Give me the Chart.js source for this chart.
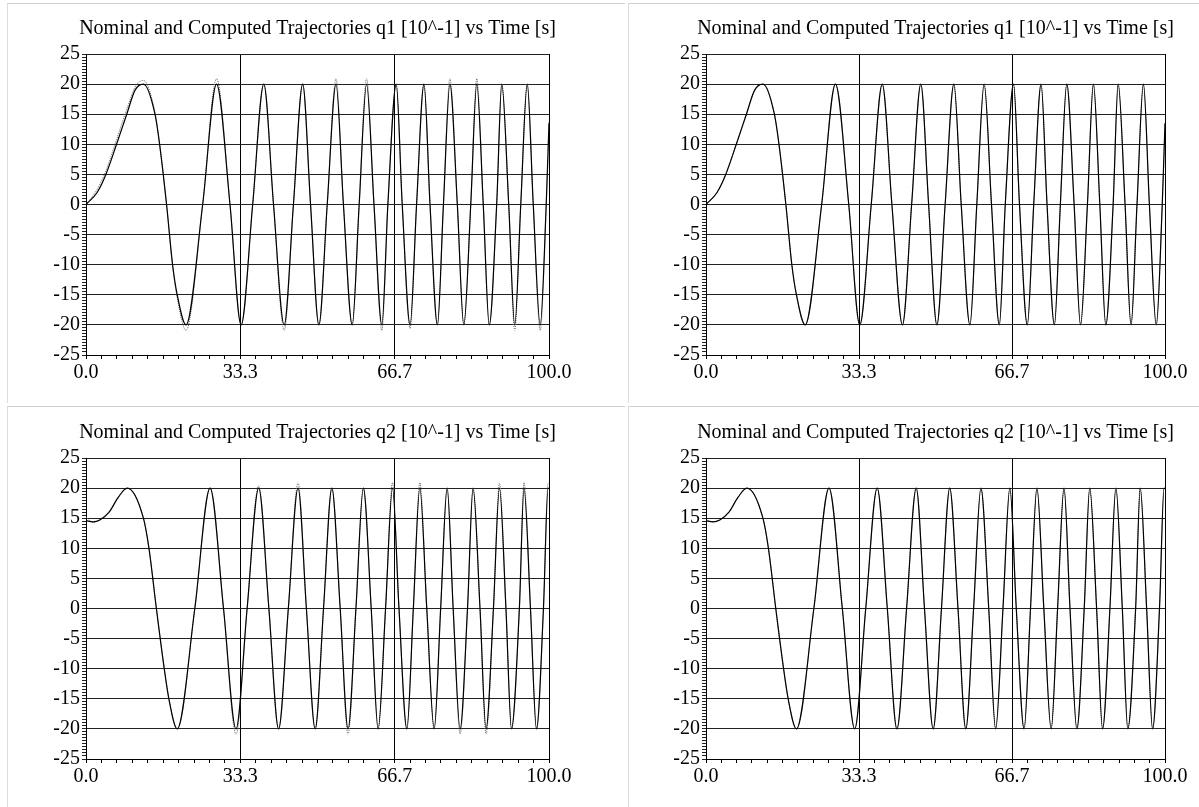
<!DOCTYPE html>
<html>
<head>
<meta charset="utf-8">
<title>Nominal and Computed Trajectories</title>
<script src="https://cdn.jsdelivr.net/npm/chart.js@4.4.1/dist/chart.umd.min.js"></script>
<style>
    html, body { margin: 0; padding: 0; background: #fff; }
    body { width: 1199px; height: 807px; overflow: hidden; position: relative; }
    .panel { position: absolute; border-top: 1px solid #cfcfcf; border-left: 1px solid #dcdcdc; box-sizing: border-box; }
    canvas { position: absolute; }
</style>
</head>
<body>
<div class="panel" style="left:7px;top:3px;width:618px;height:400px;"></div>
<div class="panel" style="left:628px;top:3px;width:580px;height:400px;"></div>
<div class="panel" style="left:7px;top:406px;width:618px;height:410px;"></div>
<div class="panel" style="left:628px;top:406px;width:580px;height:410px;"></div>
<canvas id="q1Left" width="618" height="400" style="left:7px;top:3px;"></canvas>
<canvas id="q1Right" width="600" height="400" style="left:628px;top:3px;"></canvas>
<canvas id="q2Left" width="618" height="400" style="left:7px;top:407px;"></canvas>
<canvas id="q2Right" width="600" height="400" style="left:628px;top:407px;"></canvas>
<script>
// Time samples [s] (start, peaks, zero crossings, troughs)
const q1Time = [0, 2.4, 4.3, 6.6, 8.8, 10.6, 12.4, 14.9, 15.9, 17.4, 18.7, 19.7, 21.6,
    25.2, 28.2, 31.1, 33.5, 36.0, 38.4, 40.5, 42.8, 44.8, 46.8, 48.5, 50.3, 52.1, 54.0,
    55.6, 57.5, 59.0, 60.6, 62.2, 63.9, 65.2, 67.0, 68.3, 70.0, 71.4, 73.0, 74.3, 75.9,
    77.2, 78.6, 80.2, 81.6, 83.1, 84.4, 85.8, 87.1, 88.7, 89.8, 91.3, 92.6, 93.9, 95.3,
    96.6, 98.1, 99.4, 100];
const q1Nominal = [0, 2, 5, 10, 15, 19, 20, 15, 10, 0, -10, -15, -20,
    0, 20, 0, -20, 0, 20, 0, -20, 0, 20, 0, -20, 0, 20,
    0, -20, 0, 20, 0, -20, 0, 20, 0, -20, 0, 20, 0, -20,
    0, 20, 0, -20, 0, 20, 0, -20, 0, 20, 0, -20, 0, 20,
    0, -20, 0, 13.5];
const q1Computed = [0, 2.5, 5.6, 10.8, 15.8, 19.5, 20.6, 15.3, 10, 0, -10.2, -15.5, -20.9,
    0, 20.9, 0, -20, 0, 20, 0, -20.9, 0, 20, 0, -20, 0, 20.9,
    0, -20, 0, 20.9, 0, -20.9, 0, 20, 0, -20.6, 0, 20, 0, -20,
    0, 20.9, 0, -20, 0, 20.9, 0, -20, 0, 20, 0, -20.9, 0, 20,
    0, -20.9, 0, 13.8];

// Time samples [s]
const q2Time = [0, 1.5, 3.0, 5.0, 7.0, 8.9, 12.4, 13.6, 15.2, 16.9, 17.9, 19.7,
    23.5, 26.8, 29.7, 32.4, 34.8, 37.3, 39.5, 41.6, 43.7, 45.8, 47.6, 49.5, 51.3, 53.1,
    54.9, 56.6, 58.3, 59.9, 61.6, 63.1, 64.7, 66.2, 67.6, 69.3, 70.7, 72.1, 73.6, 75.2,
    76.6, 78.0, 79.3, 80.8, 82.4, 83.6, 85.1, 86.4, 88.0, 89.3, 90.7, 91.9, 93.6, 94.6,
    96.0, 97.3, 98.8, 99.8, 100];
const q2Nominal = [14.6, 14.4, 14.7, 16, 18.5, 20, 15, 10, 0, -10, -15, -20,
    0, 20, 0, -20, 0, 20, 0, -20, 0, 20, 0, -20, 0, 20,
    0, -20, 0, 20, 0, -20, 0, 20, 0, -20, 0, 20, 0, -20,
    0, 20, 0, -20, 0, 20, 0, -20, 0, 20, 0, -20, 0, 20,
    0, -20, 0, 20, 19.9];
const q2Computed = [15.2, 14.3, 14.8, 16.1, 18.6, 20, 15, 10, 0, -10, -15, -20,
    0, 20, 0, -20.9, 0, 20.4, 0, -20, 0, 20.9, 0, -20, 0, 20,
    0, -20.9, 0, 20, 0, -20, 0, 20.9, 0, -20, 0, 20.9, 0, -20,
    0, 20, 0, -20.8, 0, 20, 0, -20.8, 0, 20.8, 0, -20, 0, 20.9,
    0, -20, 0, 20.8, 20.6];

// Axis labels
const xTickLabels = ['0.0', '33.3', '66.7', '100.0'];
const yTickLabels = ['-25', '-20', '-15', '-10', '-5', '0', '5', '10', '15', '20', '25'];
const q1Title = 'Nominal and Computed Trajectories q1 [10^-1] vs Time [s]';
const q2Title = 'Nominal and Computed Trajectories q2 [10^-1] vs Time [s]';

document.addEventListener('DOMContentLoaded', function() {
    const serif = "'Liberation Serif', 'Times New Roman', serif";

    // Title centred over the plot area; the built-in title squeezes text to the box width
    const plotTitle = {
        id: 'plotTitle',
        afterDraw: function(chart, args, opts) {
            const c = chart.ctx;
            const area = chart.chartArea;
            c.save();
            c.font = '20px ' + serif;
            c.fillStyle = '#000';
            c.textAlign = 'center';
            c.textBaseline = 'middle';
            c.fillText(opts.text, (area.left + area.right) / 2, 25.5);
            c.restore();
        }
    };

    function toPoints(times, values) {
        return times.map(function(t, i) { return { x: t, y: values[i] }; });
    }

    function makePanel(id, title, times, nominal, computed, plotLeft, rightPad) {
        const ctx = document.getElementById(id);
        new Chart(ctx, {
            type: 'line',
            data: {
                datasets: [{
                    label: 'Nominal',
                    data: toPoints(times, nominal),
                    borderColor: '#000',
                    borderWidth: 1.2,
                    pointRadius: 0,
                    cubicInterpolationMode: 'monotone',
                    fill: false
                }, {
                    label: 'Computed',
                    data: toPoints(times, computed),
                    borderColor: '#666',
                    borderWidth: 1,
                    borderDash: [1, 1],
                    pointRadius: 0,
                    cubicInterpolationMode: 'monotone',
                    fill: false
                }]
            },
            plugins: [plotTitle],
            options: {
                responsive: false,
                animation: false,
                events: [],
                layout: { padding: { left: 0, right: rightPad, top: 51, bottom: 0 } },
                scales: {
                    x: {
                        type: 'linear',
                        min: 0,
                        max: 100,
                        afterFit: function(s) { s.height = 48; },
                        afterBuildTicks: function(s) {
                            // 30 minor divisions, every 10th one is labelled
                            const ticks = [];
                            for (let i = 0; i <= 30; i++) ticks.push({ value: i * 100 / 30 });
                            s.ticks = ticks;
                        },
                        ticks: {
                            autoSkip: false,
                            maxRotation: 0,
                            padding: 2,
                            color: '#000',
                            font: { family: serif, size: 20 },
                            callback: function(v, i) {
                                return i % 10 === 0 ? xTickLabels[i / 10] : '';
                            }
                        },
                        grid: {
                            tickLength: 4,
                            tickColor: '#000',
                            color: function(c) {
                                return c.index % 10 === 0 ? '#000' : 'rgba(0,0,0,0)';
                            }
                        },
                        border: { color: '#000', width: 1 }
                    },
                    y: {
                        min: -25,
                        max: 25,
                        afterFit: function(s) { s.width = plotLeft; },
                        ticks: {
                            stepSize: 0.5,
                            maxTicksLimit: 200,
                            autoSkip: false,
                            padding: 2,
                            color: '#000',
                            font: { family: serif, size: 20 },
                            callback: function(v) {
                                return v % 5 === 0 ? yTickLabels[(v + 25) / 5] : '';
                            }
                        },
                        grid: {
                            tickLength: 4,
                            tickColor: '#222',
                            color: function(c) {
                                return c.tick && c.tick.value % 5 === 0 ? '#222' : 'rgba(0,0,0,0)';
                            }
                        },
                        border: { color: '#000', width: 1 }
                    }
                },
                plugins: {
                    legend: { display: false },
                    tooltip: { enabled: false },
                    title: { display: false },
                    plotTitle: { text: title }
                }
            }
        });
    }

    makePanel('q1Left', q1Title, q1Time, q1Nominal, q1Computed, 79, 76);
    makePanel('q1Right', q1Title, q1Time, q1Nominal, q1Nominal, 78, 63);
    makePanel('q2Left', q2Title, q2Time, q2Nominal, q2Computed, 79, 76);
    makePanel('q2Right', q2Title, q2Time, q2Nominal, q2Nominal, 78, 63);
});
</script>
</body>
</html>
